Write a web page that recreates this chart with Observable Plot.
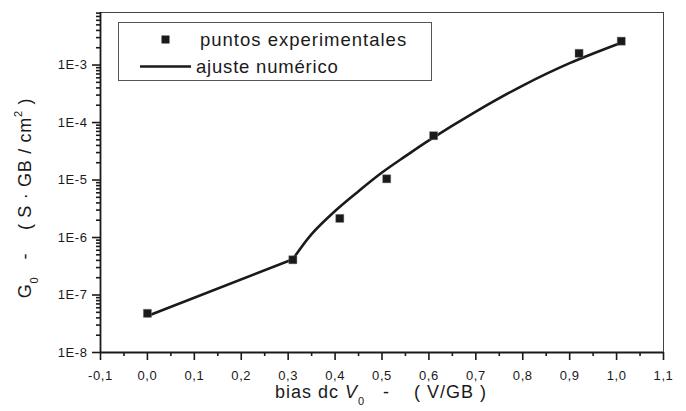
<!DOCTYPE html>
<html>
<head>
<meta charset="utf-8">
<script src="https://cdn.jsdelivr.net/npm/d3@7"></script>
<script src="https://cdn.jsdelivr.net/npm/@observablehq/plot@0.6"></script>
<style>
  html, body { margin: 0; padding: 0; background: #fff; }
  svg { display: block; }
</style>
</head>
<body>
<div id="chart"></div>
<script>
// Experimental points
const pointsX = [0.00, 0.31, 0.41, 0.51, 0.61, 0.92, 1.01];
const pointsY = [4.8e-8, 4.1e-7, 2.15e-6, 1.05e-5, 5.9e-5, 1.6e-3, 2.6e-3];

// Numerical fit: straight part and curved part
const fitLowX = [0.00, 0.31];
const fitLowY = [4.3e-8, 4.2e-7];
const fitHighX = [0.31, 0.35, 0.40, 0.45, 0.50, 0.55, 0.60, 0.70, 0.80, 0.90, 1.01];
const fitHighY = [4.2e-7, 1.15e-6, 2.9e-6, 6.4e-6, 1.35e-5, 2.6e-5, 4.9e-5, 1.55e-4, 4.4e-4, 1.08e-3, 2.45e-3];

// Tick values and labels
const xTicks = [-0.1, 0.0, 0.1, 0.2, 0.3, 0.4, 0.5, 0.6, 0.7, 0.8, 0.9, 1.0, 1.1];
const xTickLabels = ["-0,1", "0,0", "0,1", "0,2", "0,3", "0,4", "0,5", "0,6", "0,7", "0,8", "0,9", "1,0", "1,1"];
const xMinorTicks = [-0.05, 0.05, 0.15, 0.25, 0.35, 0.45, 0.55, 0.65, 0.75, 0.85, 0.95, 1.05];
const yTicks = [1e-8, 1e-7, 1e-6, 1e-5, 1e-4, 1e-3];
const yTickLabels = ["1E-8", "1E-7", "1E-6", "1E-5", "1E-4", "1E-3"];
const yMinorMultipliers = [2, 3, 4, 5, 6, 7, 8, 9];

const legendLabels = ["puntos experimentales", "ajuste numérico"];

const yTop = 8.2e-3;
const yMinorTicks = [];
for (const d of yTicks) for (const m of yMinorMultipliers) if (d * m <= yTop) yMinorTicks.push(d * m);

const points = pointsX.map((x, i) => ({x, y: pointsY[i]}));
const fitLow = fitLowX.map((x, i) => ({x, y: fitLowY[i]}));
const fitHigh = fitHighX.map((x, i) => ({x, y: fitHighY[i]}));

const ink = "#1a1a1a";
const font = "'Liberation Sans', Arial, Helvetica, sans-serif";

const svg = Plot.plot({
  width: 686,
  height: 411,
  marginLeft: 100,
  marginRight: 23,
  marginTop: 12,
  marginBottom: 59,
  style: {fontFamily: font, fontSize: "13px", color: ink, background: "#fff"},
  x: {domain: [-0.1, 1.1], axis: null},
  y: {type: "log", domain: [1e-8, yTop], axis: null},
  marks: [
    Plot.frame({stroke: "#444", strokeWidth: 1}),
    Plot.axisX(xMinorTicks, {tickSize: 4, strokeWidth: 1.6, stroke: ink, text: null, label: null}),
    Plot.axisX(xTicks, {tickSize: 8, tickPadding: 10, strokeWidth: 1.6, stroke: ink, fill: ink, fontSize: 13,
      tickFormat: (d) => xTickLabels[xTicks.findIndex(t => Math.abs(t - d) < 1e-9)], label: null}),
    Plot.axisY(yMinorTicks, {tickSize: 4, strokeWidth: 1.6, stroke: ink, text: null, label: null}),
    Plot.axisY(yTicks, {tickSize: 8, tickPadding: 5, strokeWidth: 1.6, stroke: ink, fill: ink, fontSize: 13,
      tickFormat: (d) => yTickLabels[yTicks.findIndex(t => Math.abs(t / d - 1) < 1e-9)], label: null}),
    Plot.ruleX([-0.1], {stroke: ink, strokeWidth: 1.8}),
    Plot.ruleY([1e-8], {stroke: ink, strokeWidth: 1.8}),
    Plot.line(fitLow, {x: "x", y: "y", stroke: ink, strokeWidth: 2.6, curve: "linear"}),
    Plot.line(fitHigh, {x: "x", y: "y", stroke: ink, strokeWidth: 2.6, curve: "catmull-rom"}),
    Plot.dot(points, {x: "x", y: "y", symbol: "square", r: 4.6, fill: ink, stroke: "#888", strokeWidth: 0.4})
  ]
});

const s = d3.select(svg);
// Tick labels: slightly wide lettering like the reference
s.selectAll("text").each(function() {
  this.setAttribute("font-size", "13");
  this.style.fontSize = "13px";
  this.style.letterSpacing = "0.6px";
  this.style.fill = ink;
});

// X title
const xt = s.append("text")
  .attr("x", 381).attr("y", 398)
  .attr("text-anchor", "middle")
  .attr("font-family", font).attr("font-size", 18).attr("fill", ink)
  .style("letter-spacing", "1px");
xt.append("tspan").text("bias dc ");
xt.append("tspan").attr("font-style", "italic").text("V");
xt.append("tspan").attr("font-size", 11).attr("dy", 7).text("0");
xt.append("tspan").attr("dy", -7).text("\u00a0\u00a0\u00a0-\u00a0\u00a0\u00a0\u00a0( V/GB )");

// Y title
const yt = s.append("text")
  .attr("transform", "translate(31,198) rotate(-90)")
  .attr("text-anchor", "middle")
  .attr("font-family", font).attr("font-size", 18).attr("fill", ink)
  .style("letter-spacing", "0.7px");
yt.append("tspan").text("G");
yt.append("tspan").attr("font-size", 11).attr("dy", 7).text("0");
yt.append("tspan").attr("dy", -7).text("\u00a0\u00a0\u00a0-\u00a0\u00a0\u00a0\u00a0( S \u00b7 GB / cm");
yt.append("tspan").attr("font-size", 11).attr("dy", -9).text("2");
yt.append("tspan").attr("dy", 9).text(" )");

// Legend
const lg = s.append("g").attr("text-anchor", "start");
lg.append("rect").attr("x", 118.5).attr("y", 22.5).attr("width", 313).attr("height", 58)
  .attr("fill", "#fff").attr("stroke", "#555").attr("stroke-width", 1);
lg.append("rect").attr("x", 161.5).attr("y", 35.5).attr("width", 8).attr("height", 8).attr("fill", ink);
lg.append("text").attr("x", 200).attr("y", 46).attr("text-anchor", "start")
  .attr("font-family", font).attr("font-size", 18.5).style("letter-spacing", "1px")
  .attr("fill", ink).text(legendLabels[0]);
lg.append("line").attr("x1", 140).attr("x2", 191).attr("y1", 66.5).attr("y2", 66.5)
  .attr("stroke", ink).attr("stroke-width", 2.6);
lg.append("text").attr("x", 196).attr("y", 73).attr("text-anchor", "start")
  .attr("font-family", font).attr("font-size", 18.5).style("letter-spacing", "0.8px")
  .attr("fill", ink).text(legendLabels[1]);

document.getElementById("chart").appendChild(svg);
</script>
</body>
</html>
